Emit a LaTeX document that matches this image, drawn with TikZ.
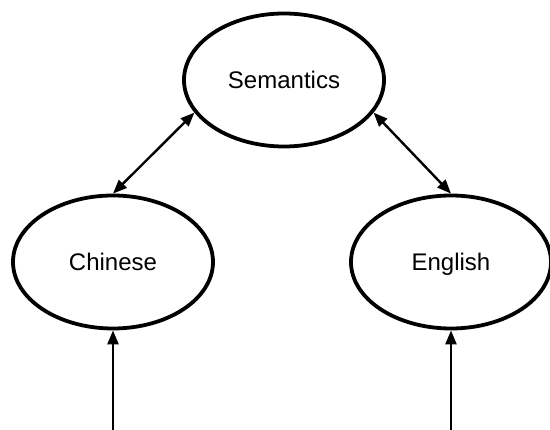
\documentclass[tikz,border=0pt]{standalone}
\usepackage{fontspec}
\setmainfont{Liberation Sans}
\usetikzlibrary{shapes.geometric,arrows.meta}
\newlength{\du}
\setlength{\du}{1pt}
\tikzset{
  langnode/.style={ellipse,draw=black,line width=3.8\du,minimum width=200\du,minimum height=133\du,inner sep=0pt,
    text height=17\du,text depth=0pt,font=\fontsize{24}{28}\selectfont},
  linkarrow/.style={line width=2.4\du,{Triangle[length=14pt,width=11pt]}-{Triangle[length=14pt,width=11pt]}},
  inarrow/.style={line width=2.4\du,-{Triangle[length=14pt,width=11pt]}}
}
\begin{document}
\begin{tikzpicture}[yscale=-1]
\useasboundingbox (0\du,0\du) rectangle (550\du,430\du);
% ellipses
\node[langnode] (sem) at (284\du,80\du) {Semantics};
\node[langnode] (chn) at (113\du,262\du) {Chinese};
\node[langnode] (eng) at (451\du,262\du) {English};
% free ends of the input arrows
\coordinate (chnin) at (113\du,430\du);
\coordinate (engin) at (451\du,430\du);
% connectors
\draw[linkarrow] (sem.200) -- (chn.north);
\draw[linkarrow] (sem.340) -- (eng.north);
\draw[inarrow] (chnin) -- (chn.south);
\draw[inarrow] (engin) -- (eng.south);
\end{tikzpicture}
\end{document}
